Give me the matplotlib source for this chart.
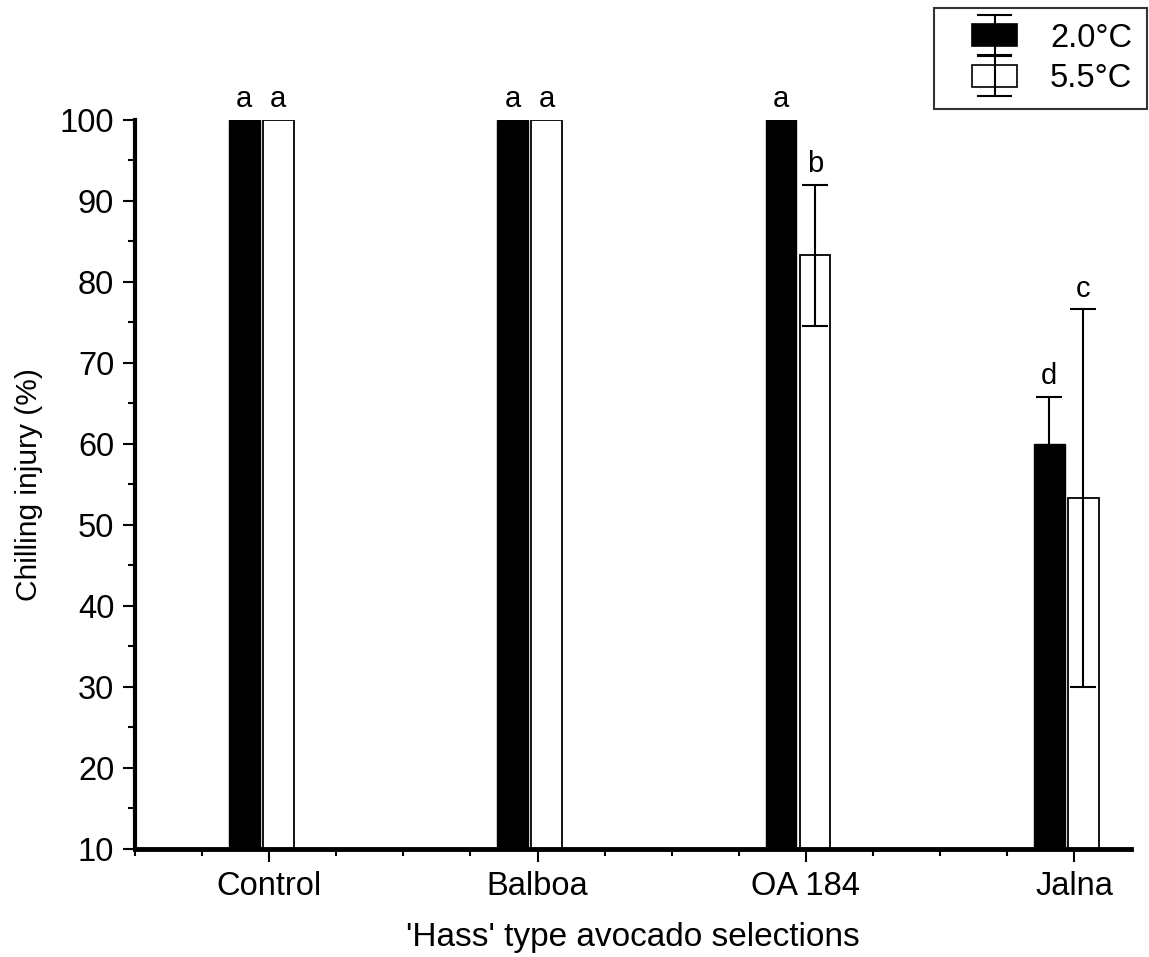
import matplotlib
matplotlib.use("Agg")
import matplotlib.pyplot as plt
from matplotlib.patches import Rectangle
from matplotlib.lines import Line2D
from matplotlib.legend_handler import HandlerBase
from matplotlib.ticker import MultipleLocator
import numpy as np

plt.rcParams['font.family'] = ['Liberation Sans', 'DejaVu Sans']

# chilling injury (%) per selection, two storage temperatures
categories = ['Control', 'Balboa', 'OA 184', 'Jalna']
injury_20 = [100, 100, 100, 60.0]
sd_20 = [0, 0, 0, 5.8]
injury_55 = [100, 100, 83.3, 53.3]
sd_55 = [0, 0, 8.7, 23.3]
letters_20 = ['a', 'a', 'a', 'd']
letters_55 = ['a', 'a', 'b', 'c']
series_names = ['2.0°C', '5.5°C']


class BarErrHandler(HandlerBase):
    # box with an error bar through it, placed at the right of the handle area
    def create_artists(self, legend, orig_handle, xdescent, ydescent,
                       width, height, fontsize, trans):
        x0, y0 = -xdescent, -ydescent
        bw = 0.66 * width
        bx = x0 + width - bw
        rect = Rectangle((bx, y0), bw, height,
                         facecolor=orig_handle.get_facecolor(),
                         edgecolor='black', linewidth=1.2, transform=trans)
        xc = bx + bw / 2
        ext = 0.4 * height
        cap = 0.37 * bw
        arts = [rect,
                Line2D([xc, xc], [y0 - ext, y0 + height + ext], color='black', lw=1.5, transform=trans),
                Line2D([xc - cap, xc + cap], [y0 + height + ext] * 2, color='black', lw=1.5, transform=trans),
                Line2D([xc - cap, xc + cap], [y0 - ext] * 2, color='black', lw=1.5, transform=trans)]
        return arts


fig = plt.figure(figsize=(11.49, 9.57), dpi=100)
ax = fig.add_axes([0.1175, 0.1129, 0.8665, 0.7618])

x = np.arange(1, len(categories) + 1)
w = 0.115
off_black = -0.093
off_white = 0.034

b1 = ax.bar(x + off_black, injury_20, w, bottom=0, color='black', edgecolor='black', linewidth=1.0, zorder=2)
b2 = ax.bar(x + off_white, injury_55, w, bottom=0, color='white', edgecolor='black', linewidth=1.3, zorder=2)

for xs, vals, errs in [(x + off_black, injury_20, sd_20), (x + off_white, injury_55, sd_55)]:
    idx = [i for i, e in enumerate(errs) if e > 0]
    ax.errorbar([xs[i] for i in idx], [vals[i] for i in idx], yerr=[errs[i] for i in idx],
                fmt='none', ecolor='black', elinewidth=1.5, capsize=9.5, capthick=1.5, zorder=3)

for xs, vals, errs, labs in [(x + off_black, injury_20, sd_20, letters_20),
                             (x + off_white, injury_55, sd_55, letters_55)]:
    for i in range(len(xs)):
        ax.annotate(labs[i], (xs[i], vals[i] + errs[i]), xytext=(0, 5), textcoords='offset points',
                    ha='center', va='bottom', fontsize=21, annotation_clip=False)

ax.set_xlim(0.5, 4.21)
ax.set_ylim(10, 100)
ax.set_xticks(x)
ax.set_xticklabels(categories)
ax.xaxis.set_minor_locator(MultipleLocator(0.25))
ax.yaxis.set_major_locator(MultipleLocator(10))
ax.yaxis.set_minor_locator(MultipleLocator(5))

ax.spines['top'].set_visible(False)
ax.spines['right'].set_visible(False)
ax.spines['left'].set_linewidth(3)
ax.spines['bottom'].set_linewidth(3.5)
ax.tick_params(axis='both', which='major', direction='out', length=9, width=1.5, labelsize=23.5, pad=6)
ax.tick_params(axis='both', which='minor', direction='out', length=5, width=1.5)
ax.tick_params(axis='x', which='major', pad=7)

ax.set_ylabel('Chilling injury (%)', fontsize=21.5, labelpad=12)
ax.set_xlabel("'Hass' type avocado selections", fontsize=24, labelpad=14)

leg = fig.legend([b1.patches[0], b2.patches[0]], series_names,
                 handler_map={Rectangle: BarErrHandler()},
                 loc='upper right', bbox_to_anchor=(1147 / 1149, 1 - 8 / 957),
                 fontsize=23.5, frameon=True, fancybox=False, edgecolor='black',
                 borderaxespad=0, handlelength=2.1, handleheight=0.68, handletextpad=1.0,
                 borderpad=0.45, labelspacing=0.3)
leg.get_frame().set_linewidth(1.5)

fig.savefig('out.png', dpi=100)
